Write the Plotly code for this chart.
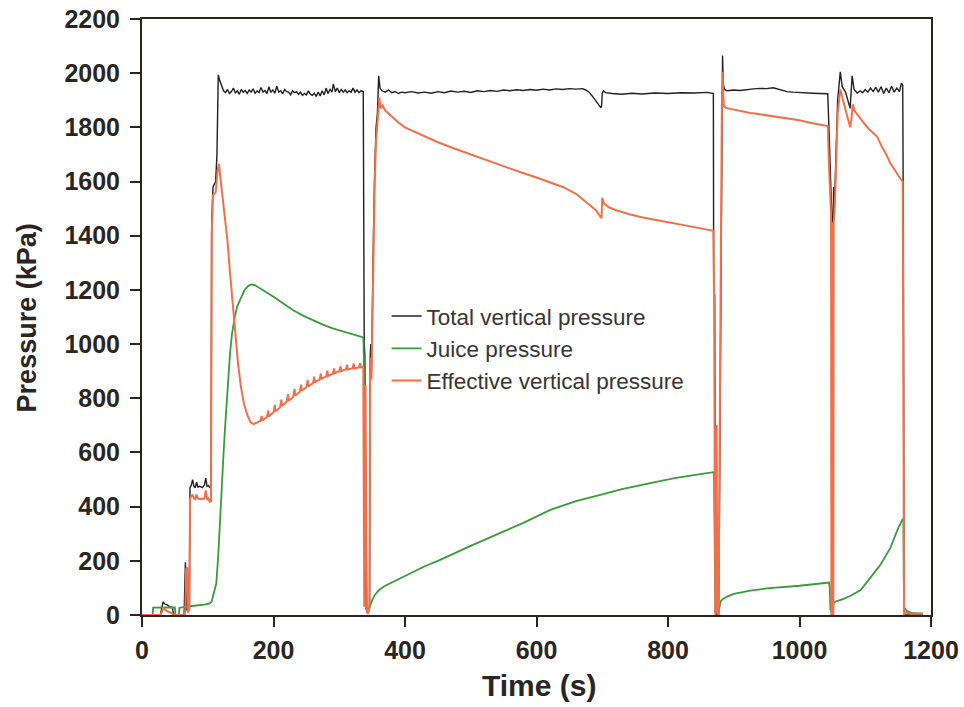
import plotly.graph_objects as go

# ---------------- data ----------------
t_total = [0, 28, 30, 32, 35, 38, 42, 46, 48, 50, 64, 65, 66, 67, 68, 70, 72, 73, 75, 77, 79, 81, 83, 85, 88, 92, 95, 97, 99, 101, 103, 105,
           106, 108, 112, 114, 116, 118,
           121, 124, 127, 130, 133, 136, 139, 142, 145, 148, 151, 154, 157, 160, 163, 166, 169, 172, 175, 178, 181, 184, 187, 190,
           193, 196, 199, 202, 205, 208, 211, 214, 217, 220, 223, 226, 229, 232, 235, 238, 241, 244, 247, 250, 253, 256, 259, 262,
           265, 268, 271, 274, 277, 280, 283, 286, 289, 291, 294, 297, 300, 303, 306, 309, 312, 315, 318, 321, 324, 327, 330, 333, 336.5,
           337, 338, 339, 340, 341, 344, 346, 347, 348, 349, 350, 352, 354, 356, 358, 360, 362,
           365, 370, 375, 380, 385, 390, 395, 400, 410, 420, 430, 440, 450, 460, 470, 480, 490, 500, 510, 520, 530, 540, 550, 560,
           570, 580, 590, 600, 610, 620, 630, 640, 650, 660, 670, 675, 680, 685, 690, 695, 698, 699, 700, 702, 705, 715, 730, 745,
           760, 780, 800, 820, 840, 860, 869,
           869.5, 871, 871.5, 872, 873, 877, 878, 880, 882, 883, 884, 886, 890, 900, 910, 920, 930, 940, 950, 960, 970, 981, 990, 1000, 1010,
           1020, 1030, 1043,
           1045, 1047, 1048, 1049, 1049.5, 1050, 1051, 1052, 1053, 1055, 1058, 1062, 1065, 1070, 1075, 1077, 1080, 1083, 1088,
           1092, 1096, 1100, 1104, 1108, 1112, 1116, 1120, 1124, 1128, 1132, 1136, 1140, 1144, 1148, 1152, 1155, 1157,
           1158, 1159, 1170, 1188]
p_total = [0, 0, 25, 48, 40, 38, 30, 28, 5, 0, 0, 150, 195, 120, 20, 10, 30, 470, 480, 500, 475, 470, 490, 472, 475, 470, 480, 505, 475, 478, 470, 470,
           1450, 1580, 1600, 1700, 1994, 1975,
           1951, 1935, 1928, 1940, 1925, 1932, 1945, 1928, 1935, 1922, 1940, 1930, 1936, 1925, 1938, 1930, 1942, 1926, 1934, 1928, 1947, 1930, 1936, 1925,
           1950, 1929, 1938, 1926, 1952, 1930, 1935, 1924, 1940, 1932, 1930, 1920, 1935, 1928, 1932, 1922, 1930, 1918, 1925, 1920, 1935, 1922, 1918, 1926,
           1914, 1930, 1916, 1935, 1920, 1945, 1925, 1940, 1930, 1960, 1932, 1945, 1928, 1940, 1930, 1938, 1928, 1935, 1930, 1945, 1930, 1938, 1928, 1935, 1932,
           1200, 1000, 960, 300, 20, 10, 30, 950, 1000, 900, 1100, 1400, 1650, 1800, 1850, 1990, 1945,
           1935, 1930, 1938, 1928, 1932, 1925, 1930, 1928, 1932, 1927, 1930, 1926, 1932, 1928, 1934, 1930, 1933, 1929, 1935, 1932, 1936, 1933, 1938, 1935,
           1939, 1936, 1940, 1937, 1941, 1938, 1942, 1940, 1943, 1941, 1943, 1938, 1930, 1915, 1898, 1882, 1872, 1880, 1925, 1935, 1928, 1925, 1922, 1926,
           1923, 1927, 1925, 1928, 1927, 1929, 1925,
           1200, 1180, 700, 700, 0, 0, 300, 1200, 1900, 2065, 1960, 1940, 1935, 1938, 1936, 1940, 1942, 1944, 1943, 1946, 1940, 1932, 1930, 1928, 1927,
           1926, 1925, 1924,
           1780, 1600, 1520, 1480, 300, 0, 1450, 1580, 1500, 1700, 1900, 2005, 1950, 1930, 1880, 1870, 1990, 1940, 1926,
           1935, 1928, 1940, 1930, 1945, 1932, 1948, 1930, 1950, 1925, 1945, 1928, 1952, 1930, 1945, 1932, 1963, 1955,
           1400, 0, 0, 0]

t_juice = [0, 16, 17, 30, 50, 51, 56, 57, 65, 75, 85, 95, 103, 106, 108, 110, 113, 116, 118, 121, 123.5, 126, 128.5, 131, 134, 137, 141, 145,
           150, 156, 162, 166, 172, 180, 190, 200, 215, 230, 245, 260, 275, 290, 305, 320, 334, 336.5,
           337, 338, 339, 340, 341, 342, 344, 345, 347, 350, 354, 358, 362, 370, 380, 393, 410, 430, 450, 469, 500, 545, 580, 621, 660,
           697, 730, 773, 810, 849, 869,
           870, 871, 872, 876, 878, 880, 883, 890, 900, 925, 950, 1000, 1045,
           1046, 1047, 1050, 1052, 1055, 1065, 1077, 1093, 1108, 1123, 1138, 1150, 1157,
           1158, 1159, 1160, 1163, 1170, 1188]
p_juice = [0, 0, 27, 28, 28, 0, 0, 27, 30, 33, 36, 38, 43, 50, 68, 90, 117, 220, 326, 450, 572, 680, 769, 870, 970, 1040, 1100, 1140,
           1170, 1200, 1215, 1220, 1217, 1205, 1192, 1175, 1150, 1125, 1105, 1088, 1072, 1058, 1048, 1038, 1028, 1025,
           1000, 900, 700, 400, 100, 20, 10, 20, 33, 55, 74, 85, 95, 108, 120, 137, 158, 180, 200, 222, 255, 303, 340, 388, 420,
           443, 465, 487, 505, 520, 527,
           520, 300, 10, 5, 30, 50, 58, 68, 78, 90, 98, 108, 120,
           100, 20, 5, 45, 50, 58, 70, 92, 137, 185, 247, 320, 355,
           350, 30, 25, 15, 8, 5]

t_eff = [0, 28, 30, 32, 35, 40, 45, 48, 65, 66, 67, 69, 70, 72, 73, 75, 77, 79, 81, 83, 85, 90, 95, 97, 99, 101, 103, 105,
         106, 108, 112, 115, 117, 119, 122, 126, 130, 134, 138, 142, 146, 150, 155, 160, 165,
         170, 175, 180, 182, 183, 186, 190, 192, 193, 196, 200, 202, 203, 206, 210, 212, 213, 216, 220, 222, 223, 226, 230, 232, 233,
         236, 240, 242, 243, 246, 250, 252, 253, 256, 260, 262, 263, 266, 270, 272, 273, 276, 280, 282, 283, 286, 290, 292, 293,
         296, 300, 302, 303, 306, 310, 312, 313, 316, 320, 322, 323, 326, 330, 332, 333, 336.5,
         337, 338, 339, 340, 341, 342, 344, 346, 347, 348, 349, 350, 352, 354, 356, 358, 360, 361, 363, 366,
         370, 380, 390, 400, 425, 450, 475, 500, 525, 550, 575, 600, 620, 640, 660, 680, 690, 695, 698, 699, 700, 703, 710, 720,
         740, 760, 780, 800, 820, 840, 860, 869,
         870, 871, 872, 873, 874, 875, 877, 878, 880, 882, 883, 884, 885, 888, 895, 905, 915, 925, 935, 950, 965, 981, 1000, 1020,
         1035, 1043,
         1045, 1047, 1048, 1048.5, 1049.5, 1050, 1050.5, 1051.5, 1052, 1053, 1055, 1058, 1062, 1066, 1070, 1074, 1077, 1079,
         1081, 1084, 1090, 1098, 1105, 1112, 1118, 1125, 1132, 1138, 1145, 1150, 1155, 1157,
         1158, 1159, 1160, 1170, 1188]
p_eff = [0, 0, 10, 25, 20, 12, 8, 0, 0, 20, 170, 175, 10, 20, 430, 440, 445, 430, 428, 445, 430, 428, 430, 460, 425, 430, 418, 420,
         1400, 1550, 1560, 1640, 1665, 1620, 1560, 1480, 1380, 1260, 1140, 1030, 930, 850, 780, 740, 712,
         705, 712, 716, 735, 718, 724, 730, 755, 732, 740, 748, 775, 752, 758, 766, 795, 772, 778, 788, 815, 790, 796, 805, 835, 810,
         816, 823, 850, 828, 834, 840, 868, 843, 850, 855, 880, 858, 864, 868, 892, 870, 876, 880, 902, 882, 886, 890, 910, 892,
         896, 900, 918, 900, 904, 906, 924, 906, 908, 910, 928, 910, 912, 914, 930, 914, 916,
         700, 30, 600, 850, 300, 10, 5, 40, 880, 950, 870, 1050, 1350, 1600, 1750, 1820, 1900, 1910, 1870, 1880,
         1862, 1840, 1818, 1800, 1772, 1745, 1722, 1700, 1677, 1655, 1635, 1615, 1598, 1580, 1555, 1515, 1495, 1478, 1465, 1470,
         1540, 1518, 1505, 1495, 1480, 1468, 1458, 1450, 1441, 1432, 1424, 1418,
         1200, 700, 0, 50, 700, 20, 0, 300, 1200, 1900, 2005, 1920, 1878, 1872, 1868, 1862, 1858, 1853, 1850, 1844, 1840, 1834, 1826, 1815,
         1808, 1805,
         1650, 1520, 1480, 0, 0, 1450, 0, 0, 1450, 1480, 1600, 1850, 1940, 1900, 1870, 1830, 1800, 1830,
         1885, 1860, 1840, 1816, 1795, 1780, 1766, 1730, 1700, 1668, 1640, 1620, 1605, 1600,
         800, 0, 10, 5, 5]

x_ticks = [0, 200, 400, 600, 800, 1000, 1200]
y_ticks = [0, 200, 400, 600, 800, 1000, 1200, 1400, 1600, 1800, 2000, 2200]
x_title = "Time (s)"
y_title = "Pressure (kPa)"

# ---------------- figure ----------------
axis_col = "#2b2522"
font_fam = "Liberation Sans, Arial, sans-serif"

fig = go.Figure()
fig.add_trace(go.Scatter(x=t_total, y=p_total, mode="lines", name="Total vertical pressure",
                         line=dict(color="#231f20", width=1.4)))
fig.add_trace(go.Scatter(x=t_juice, y=p_juice, mode="lines", name="Juice pressure",
                         line=dict(color="#3a9a3c", width=1.8)))
fig.add_trace(go.Scatter(x=t_eff, y=p_eff, mode="lines", name="Effective vertical pressure",
                         line=dict(color="#f0704c", width=2)))

fig.update_layout(
    width=964, height=707,
    margin=dict(l=142, r=33, t=19, b=92, autoexpand=False),
    paper_bgcolor="white", plot_bgcolor="white",
    font=dict(family=font_fam, color=axis_col),
    showlegend=True,
    legend=dict(x=0.310, y=0.537, xanchor="left", yanchor="top",
                bgcolor="rgba(0,0,0,0)", font=dict(size=22.5, color="#3a3432", family=font_fam),
                tracegroupgap=0, itemwidth=30),
    xaxis=dict(range=[0, 1200], tickvals=x_ticks, ticks="outside", ticklen=10, tickwidth=2,
               tickcolor=axis_col, showline=True, linewidth=2, linecolor=axis_col, mirror=True,
               showgrid=False, zeroline=False, automargin=False, ticklabelstandoff=2,
               tickfont=dict(size=25, family=font_fam, weight="bold", color=axis_col)),
    yaxis=dict(range=[0, 2200], tickvals=y_ticks, ticks="outside", ticklen=10, tickwidth=2,
               tickcolor=axis_col, showline=True, linewidth=2, linecolor=axis_col, mirror=True,
               showgrid=False, zeroline=False, automargin=False, ticklabelstandoff=5,
               tickfont=dict(size=25, family=font_fam, weight="bold", color=axis_col)),
    annotations=[
        dict(text=x_title, xref="paper", yref="paper", x=0.503, y=-0.118, xanchor="center", yanchor="middle",
             showarrow=False, font=dict(size=30, family=font_fam, weight="bold", color=axis_col)),
        dict(text=y_title, xref="paper", yref="paper", x=-0.146, y=0.499, xanchor="center", yanchor="middle",
             textangle=-90, showarrow=False, font=dict(size=27, family=font_fam, weight="bold", color=axis_col)),
    ],
)

fig.write_html("out.html")
